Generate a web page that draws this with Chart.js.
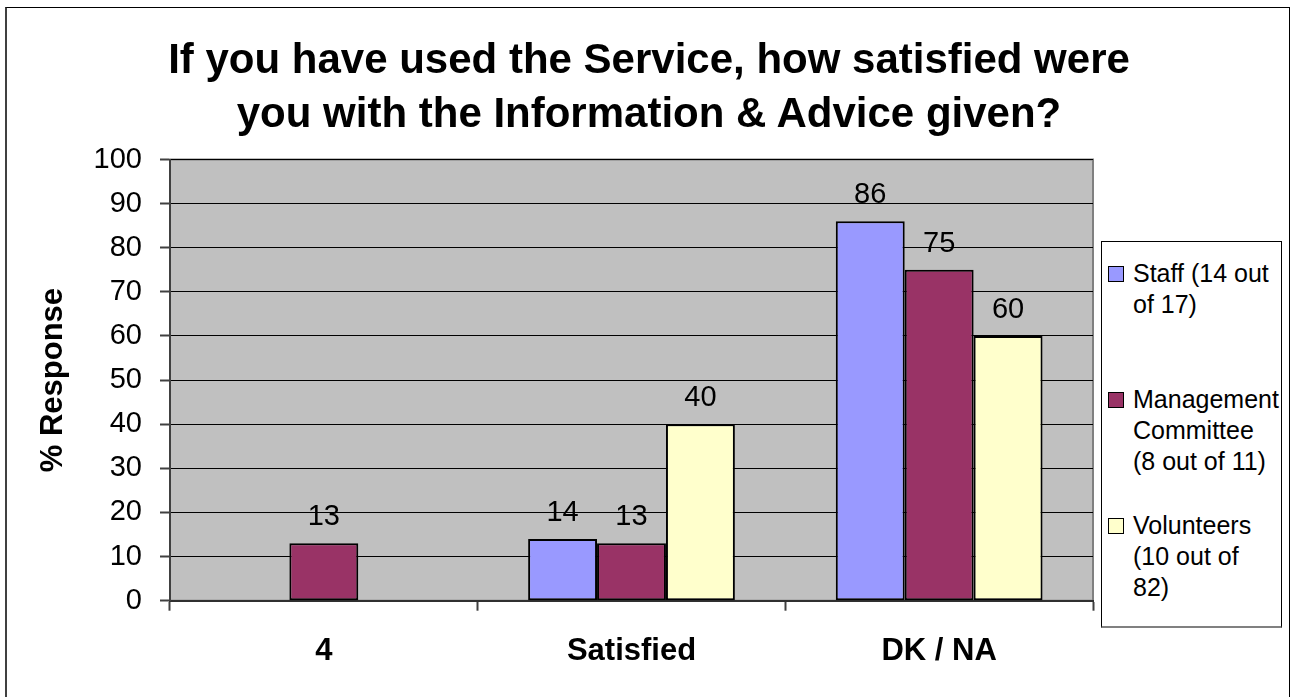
<!DOCTYPE html>
<html>
<head>
  <meta charset="utf-8">
  <title>Information &amp; Advice Satisfaction</title>
  <script src="https://cdn.jsdelivr.net/npm/chart.js@4.4.0/dist/chart.umd.min.js"></script>
  <style>
    body {
      margin: 0;
      background: #fff;
      font-family: "Liberation Sans", Arial, sans-serif;
    }
    .wrap {
      position: relative;
      width: 1293px;
      height: 697px;
      overflow: hidden;
    }
    .frame {
      position: absolute;
      left: 5px;
      top: 7px;
      width: 1285px;
      height: 720px;
      border: 1px solid #000;
      border-left: 2px solid #404040;
      box-sizing: border-box;
    }
    #chart {
      position: absolute;
      left: 0;
      top: 0;
    }
    .title {
      position: absolute;
      left: 0;
      top: 32px;
      width: 1298px;
      text-align: center;
      font-weight: bold;
      font-size: 42px;
      line-height: 54px;
      color: #000;
    }
    .legend {
      position: absolute;
      left: 1101px;
      top: 241px;
      width: 181px;
      height: 387px;
      border: 1px solid #000;
      border-bottom: 2px solid #808080;
      box-sizing: border-box;
      background: #fff;
      padding-top: 16px;
    }
    .legend-item {
      display: flex;
      height: 126px;
      font-size: 25px;
      line-height: 31px;
      color: #000;
    }
    .legend-swatch {
      width: 16px;
      height: 16px;
      margin: 8px 9px 0 6px;
      border: 1.5px solid #000;
      box-sizing: border-box;
      flex: none;
    }
  </style>
</head>
<body>
<div class="wrap">
  <div class="frame"></div>
  <canvas id="chart" width="1293" height="697"></canvas>
  <div class="title">If you have used the Service, how satisfied were<br>you with the Information &amp; Advice given?</div>
  <div class="legend" id="legend"></div>
</div>

<script>
const categories = ['4', 'Satisfied', 'DK / NA'];

const staffValues = [null, 14, 86];
const managementValues = [13, 13, 75];
const volunteerValues = [null, 40, 60];

const seriesNames = [
  ['Staff (14 out', 'of 17)'],
  ['Management', 'Committee', '(8 out of 11)'],
  ['Volunteers', '(10 out of', '82)']
];
const seriesColors = ['#9999FF', '#993366', '#FFFFCC'];

const yTicks = { min: 0, max: 100, step: 10 };

const FONT = '"Liberation Sans", Arial, sans-serif';

// grey plot area with its light frame
const plotBackground = {
  id: 'plotBackground',
  beforeDraw(chart) {
    const { ctx, chartArea: a } = chart;
    ctx.save();
    ctx.fillStyle = '#C0C0C0';
    ctx.fillRect(a.left, a.top, a.right - a.left, a.bottom - a.top);
    ctx.strokeStyle = '#808080';
    ctx.lineWidth = 2;
    ctx.strokeRect(a.left, a.top, a.right - a.left, a.bottom - a.top);
    ctx.restore();
  }
};

// value printed above each bar
const barValues = {
  id: 'barValues',
  afterDatasetsDraw(chart) {
    const { ctx } = chart;
    ctx.save();
    ctx.font = '29px ' + FONT;
    ctx.fillStyle = '#000';
    ctx.textAlign = 'center';
    ctx.textBaseline = 'alphabetic';
    chart.data.datasets.forEach((ds, i) => {
      chart.getDatasetMeta(i).data.forEach((bar, j) => {
        const v = ds.data[j];
        if (v === null || v === 0) return;
        ctx.fillText(String(v), bar.x, bar.y - 18);
      });
    });
    ctx.restore();
  }
};

const allValues = [staffValues, managementValues, volunteerValues];

new Chart(document.getElementById('chart'), {
  type: 'bar',
  data: {
    labels: categories,
    datasets: allValues.map((vals, i) => ({
      label: seriesNames[i].join(' '),
      data: vals,
      backgroundColor: seriesColors[i],
      borderColor: '#000',
      borderWidth: 2,
      borderSkipped: false,
      categoryPercentage: 0.672,
      barPercentage: 1.0
    }))
  },
  options: {
    responsive: false,
    animation: false,
    layout: {
      padding: { left: 0, top: 159.5, right: 200, bottom: 0 }
    },
    plugins: {
      legend: { display: false },
      title: { display: false },
      tooltip: { enabled: false }
    },
    scales: {
      x: {
        afterFit(scale) { scale.height = 96.3; },
        grid: {
          drawOnChartArea: false,
          drawTicks: true,
          tickLength: 10,
          tickColor: '#404040',
          tickWidth: 2,
          offset: true
        },
        border: { display: true, color: '#303030', width: 2 },
        ticks: {
          padding: 22,
          color: '#000',
          font: { family: FONT, size: 31, weight: 'bold' }
        }
      },
      y: {
        min: yTicks.min,
        max: yTicks.max,
        afterFit(scale) { scale.width = 170; },
        grid: {
          color: '#000',
          lineWidth: 1,
          drawTicks: true,
          tickLength: 10,
          tickColor: '#404040',
          tickWidth: 2
        },
        border: { display: true, color: '#404040', width: 2 },
        ticks: {
          stepSize: yTicks.step,
          padding: 18,
          color: '#000',
          font: { family: FONT, size: 29 }
        },
        title: {
          display: true,
          text: '% Response',
          color: '#000',
          font: { family: FONT, size: 31, weight: 'bold', lineHeight: 1.2 },
          padding: { top: 35, bottom: 0 }
        }
      }
    }
  },
  plugins: [plotBackground, barValues]
});

// legend with wrapped series names
const legend = document.getElementById('legend');
seriesNames.forEach((lines, i) => {
  const item = document.createElement('div');
  item.className = 'legend-item';
  const sw = document.createElement('div');
  sw.className = 'legend-swatch';
  sw.style.backgroundColor = seriesColors[i];
  const text = document.createElement('div');
  text.innerHTML = lines.join('<br>');
  item.appendChild(sw);
  item.appendChild(text);
  legend.appendChild(item);
});
</script>
</body>
</html>
